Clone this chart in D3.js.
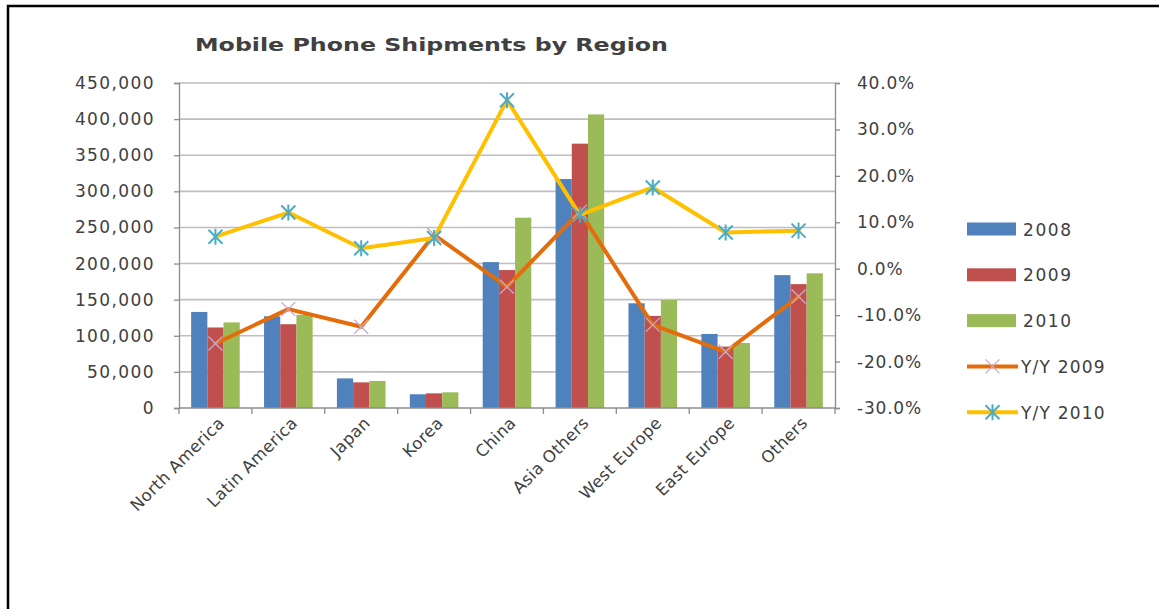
<!DOCTYPE html>
<html>
<head>
<meta charset="utf-8">
<script src="https://cdn.jsdelivr.net/npm/d3@7"></script>
<style>
  html, body { margin: 0; padding: 0; background: #fff; }
  svg { display: block; }
  text { font-family: "DejaVu Sans", sans-serif; fill: #404040; }
</style>
</head>
<body>
<svg id="chart" width="1159" height="609"></svg>
<script>
const categories = ["North America", "Latin America", "Japan", "Korea", "China", "Asia Others", "West Europe", "East Europe", "Others"];
const ship2008 = [133000, 127000, 41000, 19000, 202000, 317000, 145000, 102500, 184000];
const ship2009 = [111500, 116000, 35500, 20300, 191000, 366000, 127500, 85000, 171500];
const ship2010 = [118500, 129000, 37500, 21700, 263500, 406500, 149500, 90000, 186500];
const yy2009 = [-0.161, -0.087, -0.125, 0.073, -0.039, 0.123, -0.121, -0.179, -0.060];
const yy2010 = [0.069, 0.121, 0.044, 0.066, 0.363, 0.116, 0.175, 0.078, 0.082];
const leftTicks = [0, 50000, 100000, 150000, 200000, 250000, 300000, 350000, 400000, 450000];
const rightTicks = [-0.3, -0.2, -0.1, 0, 0.1, 0.2, 0.3, 0.4];
const barSeries = [
  { name: "2008", values: ship2008, color: "#4F81BD" },
  { name: "2009", values: ship2009, color: "#C0504D" },
  { name: "2010", values: ship2010, color: "#9BBB59" }
];
const lineSeries = [
  { name: "Y/Y 2009", values: yy2009, color: "#E46C0A", marker: "x", markerColor: "#C9A7C7" },
  { name: "Y/Y 2010", values: yy2010, color: "#FFC000", marker: "star", markerColor: "#4BACC6" }
];

const svg = d3.select("#chart");
svg.append("rect").attr("width", 1159).attr("height", 609).attr("fill", "#fff");

// outer border (left and top only visible)
svg.append("path").attr("d", "M8,609 L8,6 L1159,6").attr("fill", "none").attr("stroke", "#000").attr("stroke-width", 2.5);

const plotL = 179, plotR = 835, plotT = 83, plotB = 408;

const x = d3.scaleBand().domain(categories).range([plotL, plotR]).paddingInner(0).paddingOuter(0);
const bw = x.bandwidth() / 4.5;
const xs = d3.scaleBand().domain(barSeries.map(s => s.name)).range([0.75 * bw, 3.75 * bw]);
const yL = d3.scaleLinear().domain([0, 450000]).range([plotB, plotT]);
const yR = d3.scaleLinear().domain([-0.3, 0.4]).range([plotB, plotT]);
const pctFmt = d => (d < 0 ? "-" : "") + (Math.abs(d) * 100).toFixed(1) + "%";

// gridlines
svg.append("g").selectAll("line").data(leftTicks.filter(t => t > 0)).join("line")
  .attr("x1", plotL).attr("x2", plotR)
  .attr("y1", d => yL(d)).attr("y2", d => yL(d))
  .attr("stroke", "#BEBEBE").attr("stroke-width", 1.6);

// left axis
const axL = svg.append("g").attr("transform", `translate(${plotL},0)`)
  .call(d3.axisLeft(yL).tickValues(leftTicks).tickSize(5).tickPadding(19).tickFormat(d3.format(",")));
axL.select(".domain").attr("stroke", "#8C8C8C").attr("stroke-width", 1.3);
axL.selectAll(".tick line").attr("stroke", "#8C8C8C").attr("stroke-width", 1.3);
axL.selectAll("text").attr("font-size", 17).attr("fill", "#404040").attr("font-family", "DejaVu Sans").attr("letter-spacing", 1.4);

// right axis
const axR = svg.append("g").attr("transform", `translate(${plotR},0)`)
  .call(d3.axisRight(yR).tickValues(rightTicks).tickSize(5).tickPadding(17).tickFormat(pctFmt));
axR.select(".domain").attr("stroke", "#8C8C8C").attr("stroke-width", 1.3);
axR.selectAll(".tick line").attr("stroke", "#8C8C8C").attr("stroke-width", 1.3);
axR.selectAll("text").attr("font-size", 17).attr("fill", "#404040").attr("font-family", "DejaVu Sans").attr("letter-spacing", 0.8);

// bars
const gBars = svg.append("g");
barSeries.forEach(s => {
  gBars.append("g").selectAll("rect").data(categories).join("rect")
    .attr("x", (c) => x(c) + xs(s.name))
    .attr("width", xs.bandwidth())
    .attr("y", (c, i) => yL(s.values[i]))
    .attr("height", (c, i) => plotB - yL(s.values[i]))
    .attr("fill", s.color);
});

// bottom axis
const boundaries = categories.map(c => x(c)).concat([plotR]);
svg.append("line").attr("x1", plotL).attr("x2", plotR).attr("y1", plotB).attr("y2", plotB)
  .attr("stroke", "#8C8C8C").attr("stroke-width", 1.3);
svg.append("g").selectAll("line").data(boundaries).join("line")
  .attr("x1", d => d).attr("x2", d => d).attr("y1", plotB).attr("y2", plotB + 6)
  .attr("stroke", "#8C8C8C").attr("stroke-width", 1.3);

svg.append("g").selectAll("text").data(categories).join("text")
  .attr("transform", c => `translate(${x(c) + x.bandwidth() / 2 + 10},${plotB + 16}) rotate(-45)`)
  .attr("text-anchor", "end")
  .attr("font-size", 16.5)
  .attr("letter-spacing", 0.4)
  .text(c => c);

// markers
function markerPath(type, size) {
  const h = size / 2;
  if (type === "x") return `M${-h},${-h}L${h},${h}M${-h},${h}L${h},${-h}`;
  return `M${-h},${-h}L${h},${h}M${-h},${h}L${h},${-h}M0,${-h * 1.15}L0,${h * 1.15}`;
}

// lines
lineSeries.forEach(s => {
  const line = d3.line().x((d, i) => x(categories[i]) + x.bandwidth() / 2).y(d => yR(d));
  svg.append("path").datum(s.values).attr("d", line)
    .attr("fill", "none").attr("stroke", s.color).attr("stroke-width", 4)
    .attr("stroke-linejoin", "round").attr("stroke-linecap", "round");
  svg.append("g").selectAll("path").data(s.values).join("path")
    .attr("transform", (d, i) => `translate(${x(categories[i]) + x.bandwidth() / 2},${yR(d)})`)
    .attr("d", markerPath(s.marker, 14))
    .attr("fill", "none").attr("stroke", s.markerColor).attr("stroke-width", s.marker === "x" ? 1.3 : 2);
});

// title
svg.append("text").attr("x", 195).attr("y", 51)
  .attr("font-size", 17).attr("font-weight", "bold").attr("fill", "#595959")
  .attr("textLength", 473).attr("lengthAdjust", "spacingAndGlyphs")
  .text("Mobile Phone Shipments by Region");

// legend
const legX = 967, legY0 = 229, legStep = 45.8;
const leg = svg.append("g");
barSeries.forEach((s, i) => {
  const cy = legY0 + i * legStep;
  leg.append("rect").attr("x", legX).attr("y", cy - 6.5).attr("width", 49).attr("height", 13).attr("fill", s.color);
  leg.append("text").attr("x", 1023).attr("y", cy + 6.5).attr("font-size", 17).attr("letter-spacing", 1.6).text(s.name);
});
lineSeries.forEach((s, j) => {
  const cy = legY0 + (3 + j) * legStep;
  leg.append("line").attr("x1", legX).attr("x2", 1018).attr("y1", cy).attr("y2", cy)
    .attr("stroke", s.color).attr("stroke-width", 4);
  leg.append("path").attr("transform", `translate(${(legX + 1018) / 2},${cy})`)
    .attr("d", markerPath(s.marker, 14)).attr("fill", "none")
    .attr("stroke", s.markerColor).attr("stroke-width", s.marker === "x" ? 1.3 : 2);
  leg.append("text").attr("x", 1021).attr("y", cy + 6.5).attr("font-size", 17).attr("letter-spacing", 1.2).text(s.name);
});
</script>
</body>
</html>
